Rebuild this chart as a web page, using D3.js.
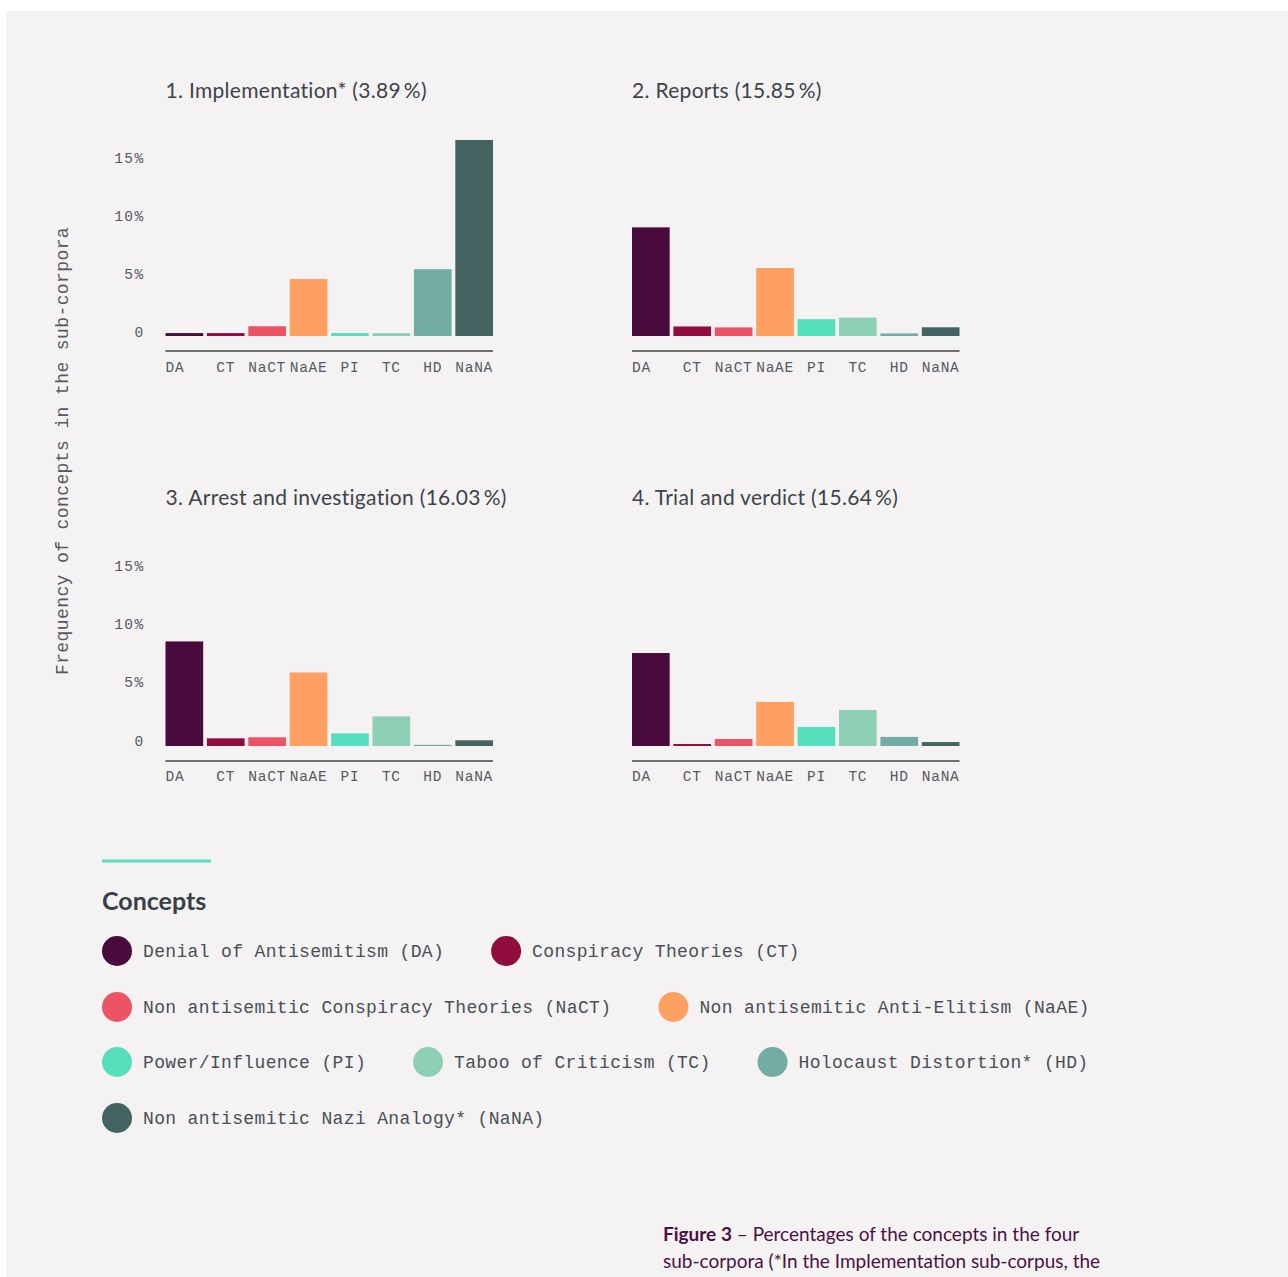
<!DOCTYPE html>
<html>
<head>
<meta charset="utf-8">
<script src="https://cdn.jsdelivr.net/npm/d3@7"></script>
<style>
  html, body { margin: 0; padding: 0; background: #ffffff; }
  svg { display: block; }
</style>
</head>
<body>
<svg id="chart" width="1288" height="1277"></svg>
<script>
// ---------- data ----------
const categories = ["DA", "CT", "NaCT", "NaAE", "PI", "TC", "HD", "NaNA"];
const conceptNames = [
  "Denial of Antisemitism (DA)",
  "Conspiracy Theories (CT)",
  "Non antisemitic Conspiracy Theories (NaCT)",
  "Non antisemitic Anti-Elitism (NaAE)",
  "Power/Influence (PI)",
  "Taboo of Criticism (TC)",
  "Holocaust Distortion* (HD)",
  "Non antisemitic Nazi Analogy* (NaNA)"
];
const colors = ["#480b3b", "#8f0c3d", "#ec5466", "#fea062", "#56dfbc", "#8ed0b5", "#72aca2", "#446361"];
const panelTitles = [
  "1. Implementation* (3.89\u2009%)",
  "2. Reports (15.85\u2009%)",
  "3. Arrest and investigation (16.03\u2009%)",
  "4. Trial and verdict (15.64\u2009%)"
];
const implementationValues = [0.25, 0.25, 0.84, 4.9, 0.25, 0.25, 5.75, 16.87];
const reportsValues        = [9.35, 0.82, 0.74, 5.85, 1.45, 1.58, 0.22, 0.75];
const arrestValues         = [9.0, 0.66, 0.75, 6.33, 1.09, 2.55, 0.1, 0.49];
const trialValues          = [8.0, 0.17, 0.6, 3.79, 1.64, 3.1, 0.78, 0.34];
const panelValues = [implementationValues, reportsValues, arrestValues, trialValues];
const yTicks = [0, 5, 10, 15];
const yTickLabels = ["0", "5%", "10%", "15%"];
const yAxisTitle = "Frequency of concepts in the sub-corpora";
const legendTitle = "Concepts";
const legendRows = [[0, 1], [2, 3], [4, 5, 6], [7]];
const captionBold = "Figure 3";
const captionLines = [" \u2013 Percentages of the concepts in the four", "sub-corpora (*In the Implementation sub-corpus, the"];

// ---------- layout ----------
const svg = d3.select("#chart");
const W = 1288, H = 1277;
const mono = "'Liberation Mono', 'DejaVu Sans Mono', monospace";
const sans = "Lato, 'Open Sans', sans-serif";

svg.append("rect").attr("x", 6).attr("y", 11).attr("width", W - 6).attr("height", H - 11).attr("fill", "#f4f2f3");

const colX = [165.5, 632];
const rowZero = [336, 746];
const rowLabelShift = [4, 5.5];
const plotW = 327.5;
const pxPerUnit = 11.62;

const x = d3.scaleBand().domain(categories).range([0, plotW]).paddingInner(0.09).paddingOuter(0);

panelValues.forEach((vals, i) => {
  const col = i % 2, row = Math.floor(i / 2);
  const zero = rowZero[row];
  const y = d3.scaleLinear().domain([0, 15]).range([zero, zero - 15 * pxPerUnit]);
  const g = svg.append("g").attr("transform", `translate(${colX[col]},0)`);

  // title
  g.append("text")
    .attr("x", 0).attr("y", zero - (row === 0 ? 238 : 241))
    .attr("font-family", sans).attr("font-size", 21).attr("letter-spacing", 0.3)
    .attr("fill", "#3e4349")
    .text(panelTitles[i]);

  // y tick labels (left column only)
  if (col === 0) {
    yTicks.forEach((t, k) => {
      g.append("text")
        .attr("x", -21).attr("y", y(t) - rowLabelShift[row]).attr("dy", "0.35em")
        .attr("text-anchor", "end")
        .attr("font-family", mono).attr("font-size", 14.5).attr("letter-spacing", 1.4)
        .attr("fill", "#555a5f")
        .text(yTickLabels[k]);
    });
  }

  // bars
  g.selectAll("rect.bar").data(vals).enter().append("rect")
    .attr("class", "bar")
    .attr("x", (d, k) => x(categories[k]))
    .attr("width", x.bandwidth())
    .attr("y", d => y(d))
    .attr("height", d => y(0) - y(d))
    .attr("fill", (d, k) => colors[k]);

  // axis line
  g.append("line")
    .attr("x1", 0).attr("x2", plotW)
    .attr("y1", zero + 15).attr("y2", zero + 15)
    .attr("stroke", "#6c6f74").attr("stroke-width", 2);

  // x labels
  categories.forEach((c, k) => {
    g.append("text")
      .attr("x", k === 0 ? x(c) : x(c) + x.bandwidth() / 2)
      .attr("y", zero + 31 - (row === 1 ? 1 : 0)).attr("dy", "0.35em")
      .attr("text-anchor", k === 0 ? "start" : "middle")
      .attr("font-family", mono).attr("font-size", 14.5).attr("letter-spacing", 0.7)
      .attr("fill", "#555a5f")
      .text(c);
  });
});

// y-axis title
svg.append("text")
  .attr("transform", "translate(62,451) rotate(-90)")
  .attr("text-anchor", "middle").attr("dy", "0.35em")
  .attr("font-family", mono).attr("font-size", 18).attr("letter-spacing", 0.4)
  .attr("fill", "#555a5f")
  .text(yAxisTitle);

// legend
svg.append("line")
  .attr("x1", 102).attr("x2", 211).attr("y1", 861).attr("y2", 861)
  .attr("stroke", "#56dfbc").attr("stroke-width", 3);
svg.append("text")
  .attr("x", 102).attr("y", 910)
  .attr("font-family", sans).attr("font-weight", 700).attr("font-size", 25)
  .attr("fill", "#3a4047")
  .text(legendTitle);

const rowY = [951, 1007, 1062, 1118];
legendRows.forEach((items, r) => {
  let cx = 102;
  items.forEach(idx => {
    svg.append("circle").attr("cx", cx + 15).attr("cy", rowY[r]).attr("r", 15).attr("fill", colors[idx]);
    const t = svg.append("text")
      .attr("x", cx + 41).attr("y", rowY[r]).attr("dy", "0.35em")
      .attr("font-family", mono).attr("font-size", 18).attr("letter-spacing", 0.35)
      .attr("fill", "#4a4f55")
      .text(conceptNames[idx]);
    cx = cx + 41 + t.node().getComputedTextLength() + 47;
  });
});

// caption
const cap = svg.append("text")
  .attr("x", 663).attr("y", 1241)
  .attr("font-family", sans).attr("font-size", 19).attr("fill", "#4a1243");
cap.append("tspan").attr("font-weight", 700).text(captionBold);
cap.append("tspan").text(captionLines[0]);
svg.append("text")
  .attr("x", 663).attr("y", 1268)
  .attr("font-family", sans).attr("font-size", 19).attr("fill", "#4a1243")
  .text(captionLines[1]);
</script>
</body>
</html>
